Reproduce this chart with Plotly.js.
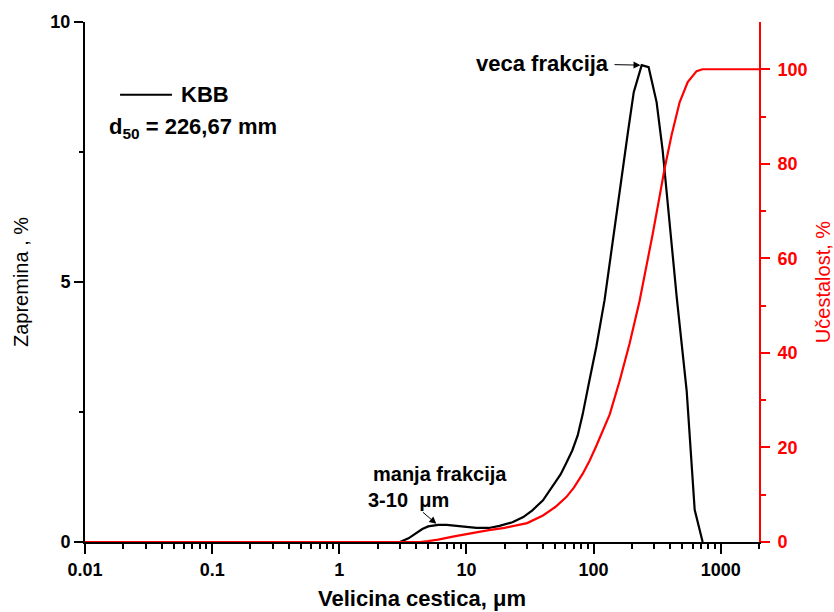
<!DOCTYPE html>
<html>
<head>
<meta charset="utf-8">
<script src="https://cdn.plot.ly/plotly-3.0.1.min.js"></script>
<style>html,body{margin:0;padding:0;background:#fff;}#chart{width:834px;height:612px;}</style>
</head>
<body>
<div id="chart"></div>
<script>
// Particle size distribution (volume %, left axis)
const sizeKBB = [0.01, 3, 3.5, 4, 4.5, 5, 6, 7, 8, 10, 12, 15, 18.2, 23, 28, 33, 40, 47.5, 55, 61, 68, 75, 82, 93, 105, 122, 140, 160, 186, 207, 239, 271, 313, 349, 451, 540, 624, 721];
const volKBB  = [0, 0, 0.07, 0.17, 0.25, 0.3, 0.33, 0.33, 0.31, 0.29, 0.27, 0.27, 0.31, 0.38, 0.48, 0.61, 0.8, 1.06, 1.3, 1.52, 1.76, 2.05, 2.45, 3.12, 3.75, 4.65, 5.73, 6.77, 7.87, 8.65, 9.17, 9.13, 8.46, 7.54, 4.7, 2.9, 0.62, 0];
// Cumulative (frequency %, right axis)
const sizeCum = [0.01, 4.3, 5, 6, 8, 10, 15, 20, 25, 30, 40, 50, 61, 70, 82, 93, 105, 120, 134, 160, 192, 230, 262, 291, 330, 362, 410, 475, 550, 646, 720, 2000];
const cumKBB  = [0, 0, 0.2, 0.5, 1.2, 1.7, 2.5, 3.0, 3.5, 4.0, 5.6, 7.4, 9.5, 11.5, 14.4, 17.2, 20.3, 23.8, 27, 34, 42, 51, 58.5, 65, 73, 79, 86, 93, 97.3, 99.6, 100, 100];
// Tick labels
const xTickVals = [0.01, 0.1, 1, 10, 100, 1000];
const xTickText = ['0.01', '0.1', '1', '10', '100', '1000'];
const yLeftTicks = [0, 5, 10];
const yRightTicks = [0, 20, 40, 60, 80, 100];

const minorX = [];
for (let k = -2; k <= 3; k++) {
  for (let m = 2; m <= 9; m++) {
    const v = m * Math.pow(10, k);
    if (v <= 2000) minorX.push(v);
  }
}

const FONT = 'Liberation Sans, Arial, sans-serif';
const xRange = [-2, Math.log10(2000)];

const traces = [
  { x: sizeKBB, y: volKBB, type: 'scatter', mode: 'lines', name: 'KBB',
    line: { color: '#000000', width: 2.2 }, xaxis: 'x', yaxis: 'y', showlegend: false },
  { x: sizeCum, y: cumKBB, type: 'scatter', mode: 'lines', name: 'Učestalost',
    line: { color: '#ff0000', width: 2.2 }, xaxis: 'x', yaxis: 'y2', showlegend: false }
];

const layout = {
  width: 834, height: 612,
  margin: { l: 85, r: 75, t: 22, b: 70 },
  paper_bgcolor: '#ffffff', plot_bgcolor: '#ffffff',
  font: { family: FONT, color: '#000000' },
  showlegend: false,
  xaxis: {
    type: 'log', range: xRange, showgrid: false, zeroline: false,
    showline: true, linecolor: '#000', linewidth: 2,
    tickmode: 'array', tickvals: xTickVals, ticktext: xTickText,
    ticks: 'outside', ticklen: 10, tickwidth: 2, tickcolor: '#000',
    minor: { tickmode: 'array', tickvals: minorX, ticks: 'outside', ticklen: 5, tickwidth: 2, tickcolor: '#000', showgrid: false },
    tickfont: { family: FONT, size: 18, weight: 'bold', color: '#000' },
    title: { text: 'Velicina cestica, μm', font: { family: FONT, size: 22, weight: 'bold', color: '#000' }, standoff: 12 },
    layer: 'below traces'
  },
  xaxis2: {
    type: 'log', range: xRange, overlaying: 'x', side: 'top', anchor: 'y',
    showgrid: false, zeroline: false, showline: true, linecolor: '#000', linewidth: 2,
    tickmode: 'array', tickvals: xTickVals, showticklabels: false,
    ticks: 'inside', ticklen: 9, tickwidth: 2, tickcolor: '#000',
    minor: { tickmode: 'array', tickvals: minorX, ticks: 'inside', ticklen: 4, tickwidth: 2, tickcolor: '#000', showgrid: false }
  },
  yaxis: {
    range: [0, 10], showgrid: false, zeroline: false,
    showline: true, linecolor: '#000', linewidth: 2,
    tickmode: 'array', tickvals: yLeftTicks,
    ticks: 'outside', ticklen: 9, tickwidth: 2, tickcolor: '#000',
    minor: { tickmode: 'array', tickvals: [2.5, 7.5], ticks: 'outside', ticklen: 4, tickwidth: 2, tickcolor: '#000', showgrid: false },
    tickfont: { family: FONT, size: 18, weight: 'bold', color: '#000' },
    title: { text: 'Zapremina , %', font: { family: FONT, size: 20, color: '#000' }, standoff: 16 }
  },
  yaxis2: {
    range: [0, 110], overlaying: 'y', side: 'right', anchor: 'x',
    showgrid: false, zeroline: false,
    showline: true, linecolor: '#ff0000', linewidth: 2,
    tickmode: 'array', tickvals: yRightTicks,
    ticks: 'outside', ticklen: 9, tickwidth: 2, tickcolor: '#ff0000', ticklabelstandoff: 4,
    minor: { tickmode: 'array', tickvals: [10, 30, 50, 70, 90], ticks: 'outside', ticklen: 5, tickwidth: 2, tickcolor: '#ff0000', showgrid: false },
    tickfont: { family: FONT, size: 18, weight: 'bold', color: '#ff0000' },
    title: { text: 'Učestalost, %', font: { family: FONT, size: 20, color: '#ff0000' }, standoff: 10 }
  },
  shapes: [
    { type: 'line', xref: 'paper', yref: 'paper', x0: 0.052, x1: 0.129, y0: 0.86, y1: 0.86, line: { color: '#000', width: 2 } }
  ],
  annotations: [
    { xref: 'paper', yref: 'paper', x: 0.139, y: 0.86, xanchor: 'left', yanchor: 'middle', showarrow: false,
      text: 'KBB', font: { family: FONT, size: 22, weight: 'bold', color: '#000' } },
    { xref: 'paper', yref: 'paper', x: 0.033, y: 0.796, xanchor: 'left', yanchor: 'middle', showarrow: false,
      text: 'd<sub>50</sub> = 226,67 mm', font: { family: FONT, size: 22, weight: 'bold', color: '#000' } },
    { xref: 'x', yref: 'y', x: Math.log10(234), y: 9.17, ax: -98, ay: -2, showarrow: true,
      text: 'veca frakcija', font: { family: FONT, size: 22, weight: 'bold', color: '#000' },
      arrowhead: 2, arrowsize: 1.4, arrowwidth: 1, arrowcolor: '#000', startstandoff: 4 },
    { xref: 'paper', yref: 'paper', x: 0.4243, y: 0.1308, xanchor: 'left', yanchor: 'middle', showarrow: false,
      text: 'manja frakcija', font: { family: FONT, size: 20, weight: 'bold', color: '#000' } },
    { xref: 'x', yref: 'y', x: Math.log10(5.8), y: 0.35, ax: -28, ay: -24, showarrow: true,
      text: '3-10  μm', font: { family: FONT, size: 20, weight: 'bold', color: '#000' },
      arrowhead: 2, arrowsize: 1.4, arrowwidth: 1, arrowcolor: '#000' }
  ]
};

Plotly.newPlot('chart', traces, layout, { displayModeBar: false, staticPlot: true });
</script>
</body>
</html>
